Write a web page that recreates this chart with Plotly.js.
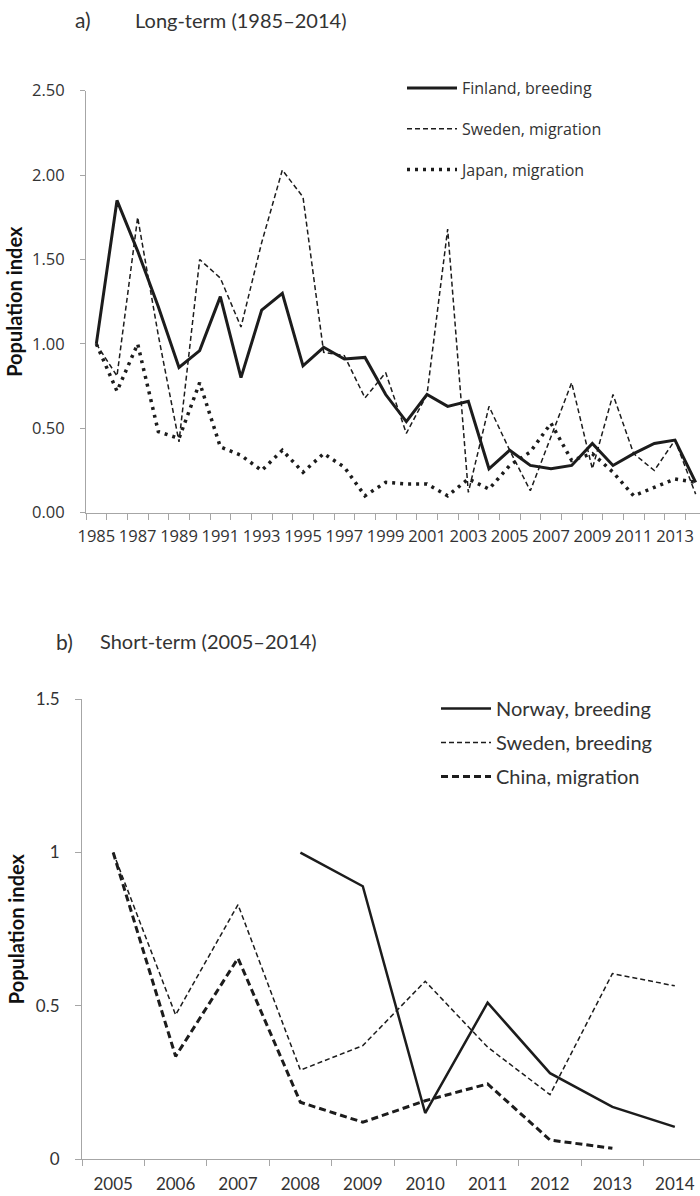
<!DOCTYPE html>
<html>
<head>
<meta charset="utf-8">
<script src="https://cdn.plot.ly/plotly-3.0.1.min.js"></script>
<style>
html, body { margin: 0; padding: 0; background: #fff; overflow: hidden; }
#chart { width: 706px; height: 1196px; }
</style>
</head>
<body>
<div id="chart"></div>
<script>
// ---------- Data: panel a) long-term ----------
const yearsLong = [1985, 1986, 1987, 1988, 1989, 1990, 1991, 1992, 1993, 1994,
                   1995, 1996, 1997, 1998, 1999, 2000, 2001, 2002, 2003, 2004,
                   2005, 2006, 2007, 2008, 2009, 2010, 2011, 2012, 2013, 2014];
const finlandBreeding = [1.00, 1.85, 1.55, 1.22, 0.86, 0.96, 1.28, 0.80, 1.20, 1.30,
                         0.87, 0.98, 0.91, 0.92, 0.70, 0.54, 0.70, 0.63, 0.66, 0.26,
                         0.37, 0.28, 0.26, 0.28, 0.41, 0.28, 0.35, 0.41, 0.43, 0.18];
const swedenMigration = [1.00, 0.81, 1.75, 1.05, 0.42, 1.50, 1.39, 1.10, 1.60, 2.03,
                         1.87, 0.95, 0.93, 0.68, 0.83, 0.47, 0.70, 1.68, 0.12, 0.63,
                         0.37, 0.13, 0.45, 0.77, 0.26, 0.70, 0.35, 0.25, 0.43, 0.11];
const japanMigration = [1.00, 0.72, 1.00, 0.48, 0.44, 0.77, 0.39, 0.34, 0.25, 0.37,
                        0.24, 0.35, 0.27, 0.10, 0.18, 0.17, 0.17, 0.10, 0.20, 0.14,
                        0.28, 0.36, 0.53, 0.31, 0.35, 0.24, 0.10, 0.15, 0.20, 0.18];
const longTickYears = [1985, 1987, 1989, 1991, 1993, 1995, 1997, 1999, 2001, 2003, 2005, 2007, 2009, 2011, 2013];
const longYTicks = [0, 0.5, 1.0, 1.5, 2.0, 2.5];

// ---------- Data: panel b) short-term ----------
const yearsShort = [2005, 2006, 2007, 2008, 2009, 2010, 2011, 2012, 2013, 2014];
const norwayBreeding = [null, null, null, 1.00, 0.89, 0.15, 0.51, 0.28, 0.17, 0.105];
const swedenBreeding = [1.00, 0.47, 0.83, 0.29, 0.37, 0.58, 0.365, 0.21, 0.605, 0.565];
const chinaMigration = [1.00, 0.335, 0.655, 0.185, 0.12, 0.19, 0.245, 0.062, 0.035, null];
const shortYTicks = [0, 0.5, 1, 1.5];
const shortYTickText = ['0', '0.5', '1', '1.5'];

// ---------- Styling ----------
const W = 706, H = 1196;
const ink = '#1c1c1c';
const axisGrey = '#a6a6a6';
const labelCol = '#333333';
const fTop = 'Open Sans, sans-serif';
const fBot = 'Lato, sans-serif';

// boundaries between categories, for tick marks (Excel style)
const longBounds = yearsLong.map(y => y - 0.5).concat([yearsLong[yearsLong.length - 1] + 0.5]);
const shortBounds = yearsShort.map(y => y - 0.5).concat([yearsShort[yearsShort.length - 1] + 0.5]);

const traces = [
  { x: yearsLong, y: finlandBreeding, name: 'Finland, breeding', type: 'scatter', mode: 'lines',
    xaxis: 'x', yaxis: 'y', legend: 'legend', legendgroup: 'a1',
    line: { color: ink, width: 3 } },
  { x: yearsLong, y: swedenMigration, name: 'Sweden, migration', type: 'scatter', mode: 'lines',
    xaxis: 'x', yaxis: 'y', legend: 'legend', legendgroup: 'a2',
    line: { color: ink, width: 1.5, dash: '5px,3px' } },
  { x: yearsLong, y: japanMigration, name: 'Japan, migration', type: 'scatter', mode: 'lines',
    xaxis: 'x', yaxis: 'y', legend: 'legend', legendgroup: 'a3',
    line: { color: ink, width: 3.5, dash: '3px,5px' } },
  { x: yearsShort, y: norwayBreeding, name: 'Norway, breeding', type: 'scatter', mode: 'lines',
    xaxis: 'x2', yaxis: 'y2', legend: 'legend2', legendgroup: 'b1',
    line: { color: ink, width: 2.5 } },
  { x: yearsShort, y: swedenBreeding, name: 'Sweden, breeding', type: 'scatter', mode: 'lines',
    xaxis: 'x2', yaxis: 'y2', legend: 'legend2', legendgroup: 'b2',
    line: { color: ink, width: 1.5, dash: '5px,3px' } },
  { x: yearsShort, y: chinaMigration, name: 'China, migration', type: 'scatter', mode: 'lines',
    xaxis: 'x2', yaxis: 'y2', legend: 'legend2', legendgroup: 'b3',
    line: { color: ink, width: 3, dash: '7px,4px' } }
];

const px = v => v / W;
const py = v => 1 - v / H;

const layout = {
  width: W, height: H,
  margin: { l: 0, r: 0, t: 0, b: 0 },
  paper_bgcolor: '#ffffff', plot_bgcolor: '#ffffff',
  showlegend: true,
  xaxis: {
    domain: [px(86), 1], range: [1984.5, 2014.5], anchor: 'y',
    tickmode: 'array', tickvals: longTickYears, ticktext: longTickYears.map(String),
    ticks: '', showline: true, linecolor: axisGrey, linewidth: 1,
    showgrid: false, zeroline: false, tickangle: 0,
    tickfont: { family: fTop, size: 16.5, color: labelCol },
    ticklabelstandoff: 8,
    minor: { tickmode: 'array', tickvals: longBounds, ticks: 'outside', ticklen: 6,
             tickcolor: axisGrey, tickwidth: 1, showgrid: false }
  },
  yaxis: {
    domain: [py(512.7), py(90.7)], range: [0, 2.5], anchor: 'x',
    tickmode: 'array', tickvals: longYTicks, tickformat: '.2f',
    ticks: 'outside', ticklen: 5, tickcolor: axisGrey, tickwidth: 1,
    showline: true, linecolor: axisGrey, linewidth: 1,
    showgrid: false, zeroline: false,
    tickfont: { family: fTop, size: 16.5, color: labelCol },
    ticklabelstandoff: 12,
    title: { text: '<b>Population index</b>', font: { family: fBot, size: 20, color: '#111' }, standoff: 4 }
  },
  xaxis2: {
    domain: [px(82), 1], range: [2004.5, 2014.5], anchor: 'y2',
    tickmode: 'array', tickvals: yearsShort, ticktext: yearsShort.map(String),
    ticks: '', showline: true, linecolor: axisGrey, linewidth: 1,
    showgrid: false, zeroline: false, tickangle: 0,
    tickfont: { family: fBot, size: 17, color: labelCol },
    ticklabelstandoff: 10,
    minor: { tickmode: 'array', tickvals: shortBounds, ticks: 'outside', ticklen: 6,
             tickcolor: axisGrey, tickwidth: 1, showgrid: false }
  },
  yaxis2: {
    domain: [py(1159), py(699.3)], range: [0, 1.5], anchor: 'x2',
    tickmode: 'array', tickvals: shortYTicks, ticktext: shortYTickText,
    ticks: 'outside', ticklen: 6, tickcolor: axisGrey, tickwidth: 1,
    showline: true, linecolor: axisGrey, linewidth: 1,
    showgrid: false, zeroline: false,
    tickfont: { family: fBot, size: 17, color: labelCol },
    ticklabelstandoff: 12,
    title: { text: '<b>Population index</b>', font: { family: fBot, size: 20, color: '#111' }, standoff: 5 }
  },
  legend: {
    x: px(402), y: py(71), xanchor: 'left', yanchor: 'top',
    bgcolor: 'rgba(0,0,0,0)', borderwidth: 0,
    font: { family: fTop, size: 16, color: labelCol },
    tracegroupgap: 17, itemwidth: 50
  },
  legend2: {
    x: px(436), y: py(689), xanchor: 'left', yanchor: 'top',
    bgcolor: 'rgba(0,0,0,0)', borderwidth: 0,
    font: { family: fBot, size: 20, color: labelCol },
    tracegroupgap: 5, itemwidth: 50
  },
  annotations: [
    { text: 'a)', xref: 'paper', yref: 'paper', x: px(83), y: py(20), xanchor: 'center', yanchor: 'middle',
      showarrow: false, font: { family: fBot, size: 21, color: labelCol } },
    { text: 'Long-term (1985–2014)', xref: 'paper', yref: 'paper', x: px(133), y: py(20), xanchor: 'left', yanchor: 'middle',
      showarrow: false, font: { family: fBot, size: 20, color: labelCol } },
    { text: 'b)', xref: 'paper', yref: 'paper', x: px(64), y: py(641), xanchor: 'center', yanchor: 'middle',
      showarrow: false, font: { family: fBot, size: 21, color: labelCol } },
    { text: 'Short-term (2005–2014)', xref: 'paper', yref: 'paper', x: px(98), y: py(641), xanchor: 'left', yanchor: 'middle',
      showarrow: false, font: { family: fBot, size: 20, color: labelCol } }
  ]
};

Plotly.newPlot('chart', traces, layout, { staticPlot: true, displayModeBar: false });
</script>
</body>
</html>
